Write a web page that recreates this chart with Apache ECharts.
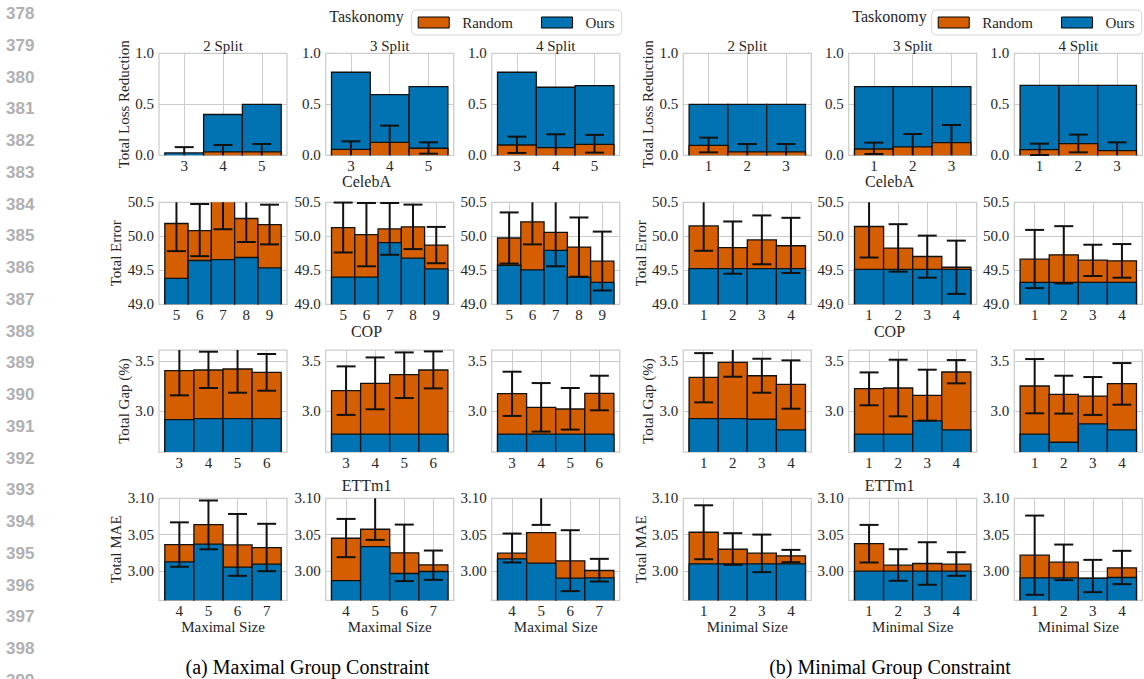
<!DOCTYPE html>
<html><head><meta charset="utf-8">
<script src="https://cdn.jsdelivr.net/npm/echarts@6/dist/echarts.min.js"></script>
<style>html,body{margin:0;padding:0;background:#fff}#c{width:1144px;height:679px}</style>
</head><body><div id="c"></div>
<script>
// ---------------- data ----------------
const taskMaxCats = [3, 4, 5];
const taskMinCats = [1, 2, 3];
const celebMaxCats = [5, 6, 7, 8, 9];
const celebMinCats = [1, 2, 3, 4];
const copMaxCats = [3, 4, 5, 6];
const copMinCats = [1, 2, 3, 4];
const ettMaxCats = [4, 5, 6, 7];
const ettMinCats = [1, 2, 3, 4];

const splitTitles = ['2 Split', '3 Split', '4 Split'];
const datasetNames = ['Taskonomy', 'CelebA', 'COP', 'ETTm1'];
const yAxisNames = ['Total Loss Reduction', 'Total Error', 'Total Gap (%)', 'Total MAE'];
const xAxisNames = ['Maximal Size', 'Minimal Size'];
const captions = ['(a) Maximal Group Constraint', '(b) Minimal Group Constraint'];
const legendNames = ['Random', 'Ours'];
const lineNumbers = [378,379,380,381,382,383,384,385,386,387,388,389,390,391,392,393,394,395,396,397,398,399];

const taskYTicks = [0.0, 0.5, 1.0];
const celebYTicks = [49.0, 49.5, 50.0, 50.5];
const copYTicks = [3.0, 3.5];
const ettYTicks = [3.00, 3.05, 3.10];
const taskYRange = [0, 1.0];
const celebYRange = [49.0, 50.5];
const copYRange = [2.595, 3.61];
const ettYRange = [2.96, 3.10];

// Taskonomy
const taskMaxOurs = [[0.023, 0.40, 0.50], [0.814, 0.595, 0.673], [0.814, 0.667, 0.683]];
const taskMaxRandom = [[-0.01, 0.033, 0.033], [0.059, 0.127, 0.069], [0.101, 0.075, 0.108]];
const taskMaxErrLow = [[-0.10, -0.04, -0.04], [-0.02, -0.03, 0.016], [0.023, -0.05, 0.026]];
const taskMaxErrHigh = [[0.08, 0.101, 0.111], [0.137, 0.291, 0.127], [0.183, 0.206, 0.20]];
const taskMinOurs = [[0.5, 0.5, 0.5], [0.673, 0.673, 0.673], [0.686, 0.686, 0.686]];
const taskMinRandom = [[0.098, 0.033, 0.033], [0.062, 0.082, 0.124], [0.056, 0.114, 0.046]];
const taskMinErrLow = [[0.029, -0.04, -0.04], [0.013, -0.05, -0.05], [0.003, 0.029, -0.03]];
const taskMinErrHigh = [[0.173, 0.111, 0.111], [0.124, 0.209, 0.297], [0.114, 0.203, 0.127]];

// CelebA
const celebMaxOurs = [[49.381, 49.644, 49.658, 49.688, 49.535], [49.401, 49.401, 49.906, 49.678, 49.52], [49.574, 49.505, 49.792, 49.396, 49.322]];
const celebMaxRandom = [[50.188, 50.084, 50.55, 50.262, 50.173], [50.129, 50.025, 50.109, 50.139, 49.871], [49.975, 50.213, 50.059, 49.842, 49.634]];
const celebMaxErrLow = [[49.782, 49.708, 50.104, 49.916, 49.881], [49.762, 49.559, 49.728, 49.812, 49.604], [49.599, 49.881, 49.559, 49.406, 49.203]];
const celebMaxErrHigh = [[50.6, 50.475, 50.9, 50.6, 50.465], [50.496, 50.49, 50.49, 50.466, 50.138], [50.351, 50.6, 50.6, 50.277, 50.069]];
const celebMinOurs = [[49.525, 49.525, 49.525, 49.525], [49.515, 49.515, 49.515, 49.515], [49.322, 49.322, 49.322, 49.322]];
const celebMinRandom = [[50.153, 49.832, 49.946, 49.861], [50.144, 49.827, 49.703, 49.545], [49.663, 49.728, 49.649, 49.639]];
const celebMinErrLow = [[49.787, 49.45, 49.589, 49.46], [49.688, 49.48, 49.391, 49.153], [49.238, 49.307, 49.416, 49.391]];
const celebMinErrHigh = [[50.55, 50.218, 50.307, 50.272], [50.6, 50.178, 50.01, 49.936], [50.094, 50.149, 49.876, 49.886]];

// COP
const copMaxOurs = [[2.917, 2.927, 2.927, 2.927], [2.772, 2.772, 2.772, 2.772], [2.772, 2.772, 2.772, 2.772]];
const copMaxRandom = [[3.404, 3.411, 3.421, 3.387], [3.205, 3.278, 3.364, 3.411], [3.175, 3.04, 3.023, 3.179]];
const copMaxErrLow = [[3.159, 3.232, 3.185, 3.205], [2.964, 3.02, 3.132, 3.228], [2.954, 2.798, 2.818, 3.01]];
const copMaxErrHigh = [[3.65, 3.593, 3.66, 3.57], [3.447, 3.536, 3.586, 3.596], [3.394, 3.281, 3.232, 3.354]];
const copMinOurs = [[2.927, 2.927, 2.921, 2.815], [2.772, 2.772, 2.904, 2.815], [2.772, 2.692, 2.874, 2.815]];
const copMinRandom = [[3.338, 3.487, 3.354, 3.268], [3.225, 3.232, 3.159, 3.391], [3.252, 3.169, 3.152, 3.275]];
const copMinErrLow = [[3.089, 3.344, 3.185, 3.026], [3.06, 2.95, 2.907, 3.278], [2.98, 2.977, 2.964, 3.066]];
const copMinErrHigh = [[3.579, 3.63, 3.523, 3.507], [3.387, 3.513, 3.414, 3.51], [3.52, 3.354, 3.341, 3.48]];

// ETTm1
const ettMaxOurs = [[3.0128, 3.037, 3.0055, 3.0096], [2.987, 3.0338, 2.9968, 2.9995], [3.0169, 3.011, 2.9904, 2.9909]];
const ettMaxRandom = [[3.0365, 3.064, 3.036, 3.0324], [3.0452, 3.0575, 3.0251, 3.0087], [3.0247, 3.053, 3.0142, 3.0009]];
const ettMaxErrLow = [[3.006, 3.030, 2.9936, 3.0], [3.0192, 3.0429, 2.9863, 2.9881], [3.0119, 3.0635, 2.9726, 2.9858]];
const ettMaxErrHigh = [[3.067, 3.097, 3.0785, 3.065], [3.0717, 3.11, 3.0639, 3.0283], [3.0516, 3.11, 3.0562, 3.0169]];
const ettMinOurs = [[3.01, 3.01, 3.01, 3.01], [3.0, 3.0, 3.0, 3.0], [2.9909, 2.9909, 2.99, 2.9913]];
const ettMinRandom = [[3.0534, 3.0301, 3.0247, 3.021], [3.0379, 3.0082, 3.0105, 3.0096], [3.0219, 3.0123, 2.9905, 3.0046]];
const ettMinErrLow = [[3.0164, 3.0087, 2.9986, 3.0123], [3.0119, 2.9868, 2.9813, 2.9936], [2.9676, 2.9877, 2.9712, 2.9822]];
const ettMinErrHigh = [[3.0904, 3.0521, 3.0502, 3.0292], [3.0635, 3.0301, 3.0397, 3.026], [3.0763, 3.0365, 3.0155, 3.0279]];

// ---------------- styling / layout ----------------
const COLORS = { Random: '#D55E00', Ours: '#0173B2' };
const FONT = '"Liberation Serif", "Times New Roman", serif';
const TXT = '#262626';
const GRIDC = '#cccccc';
const colLefts = [159, 325.7, 491.7, 683.3, 848.7, 1014.3];
const rowTops = [53.3, 202.3, 350, 498.3];
const PW = 128, PH = 102;
const nameGaps = [23, 32, 23, 32];
const titleCenters = [366.5, 889.5];
const rowLabelY = [16, 181, 331.5, 485];

const rows = [
  { ticks: taskYTicks, range: taskYRange, dec: 1, randomOnTop: true,
    halves: [
      { cats: taskMaxCats, ours: taskMaxOurs, rnd: taskMaxRandom, lo: taskMaxErrLow, hi: taskMaxErrHigh },
      { cats: taskMinCats, ours: taskMinOurs, rnd: taskMinRandom, lo: taskMinErrLow, hi: taskMinErrHigh }] },
  { ticks: celebYTicks, range: celebYRange, dec: 1, randomOnTop: false,
    halves: [
      { cats: celebMaxCats, ours: celebMaxOurs, rnd: celebMaxRandom, lo: celebMaxErrLow, hi: celebMaxErrHigh },
      { cats: celebMinCats, ours: celebMinOurs, rnd: celebMinRandom, lo: celebMinErrLow, hi: celebMinErrHigh }] },
  { ticks: copYTicks, range: copYRange, dec: 1, randomOnTop: false,
    halves: [
      { cats: copMaxCats, ours: copMaxOurs, rnd: copMaxRandom, lo: copMaxErrLow, hi: copMaxErrHigh },
      { cats: copMinCats, ours: copMinOurs, rnd: copMinRandom, lo: copMinErrLow, hi: copMinErrHigh }] },
  { ticks: ettYTicks, range: ettYRange, dec: 2, randomOnTop: false,
    halves: [
      { cats: ettMaxCats, ours: ettMaxOurs, rnd: ettMaxRandom, lo: ettMaxErrLow, hi: ettMaxErrHigh },
      { cats: ettMinCats, ours: ettMinOurs, rnd: ettMinRandom, lo: ettMinErrLow, hi: ettMinErrHigh }] }
];

function clampY(y, cs) { return Math.min(Math.max(y, cs.y), cs.y + cs.height); }

function renderBar(params, api) {
  const cs = params.coordSys;
  const x = api.value(0), v = api.value(1);
  const a = api.coord([x - 0.5, v]);
  const b = api.coord([x + 0.5, v]);
  const bottom = cs.y + cs.height;
  if (a[1] >= bottom) return null;
  const clipped = a[1] < cs.y;
  const top = clipped ? cs.y : a[1];
  const st = { stroke: '#111', lineWidth: 1.3, fill: null };
  const children = [{ type: 'rect', shape: { x: a[0], y: top, width: b[0] - a[0], height: bottom - top }, style: { fill: api.visual('color') } }];
  if (clipped) {
    children.push({ type: 'line', shape: { x1: a[0], y1: bottom, x2: a[0], y2: top }, style: st });
    children.push({ type: 'line', shape: { x1: b[0], y1: bottom, x2: b[0], y2: top }, style: st });
  } else {
    children.push({ type: 'polyline', shape: { points: [[a[0], bottom], [a[0], top], [b[0], top], [b[0], bottom]] }, style: st });
  }
  return { type: 'group', children };
}

function renderErr(params, api) {
  const cs = params.coordSys;
  const x = api.value(0);
  const lo = api.coord([x, api.value(1)]);
  const hi = api.coord([x, api.value(2)]);
  const top = cs.y, bottom = cs.y + cs.height;
  const st = { stroke: '#111', lineWidth: 2 };
  const cw = 9.5;
  const ch = [{ type: 'line', shape: { x1: hi[0], y1: clampY(hi[1], cs), x2: hi[0], y2: clampY(lo[1], cs) }, style: st }];
  if (hi[1] >= top && hi[1] <= bottom) ch.push({ type: 'line', shape: { x1: hi[0] - cw, y1: hi[1], x2: hi[0] + cw, y2: hi[1] }, style: st });
  if (lo[1] >= top && lo[1] <= bottom) ch.push({ type: 'line', shape: { x1: lo[0] - cw, y1: lo[1], x2: lo[0] + cw, y2: lo[1] }, style: st });
  return { type: 'group', children: ch };
}

const grid = [], xAxis = [], yAxis = [], series = [], graphic = [];
const labelStyle = { fontFamily: FONT, fontSize: 15, color: TXT };

rows.forEach((row, r) => {
  row.halves.forEach((half, h) => {
    for (let p = 0; p < 3; p++) {
      const col = h * 3 + p;
      const gi = grid.length;
      grid.push({ left: colLefts[col], top: rowTops[r], width: PW, height: PH, show: true,
        borderColor: GRIDC, borderWidth: 1.25, backgroundColor: 'transparent' });
      const cats = half.cats, n = cats.length;
      const xa = {
        gridIndex: gi, type: 'value',
        min: cats[0] - 0.5 - 0.05 * n, max: cats[n - 1] + 0.5 + 0.05 * n,
        axisLine: { show: false },
        axisTick: { show: false, customValues: cats },
        axisLabel: Object.assign({ customValues: cats, margin: 3, formatter: v => String(Math.round(v)) }, labelStyle),
        splitLine: { show: true, lineStyle: { color: GRIDC, width: 1 } }
      };
      if (r === 3) {
        xa.name = xAxisNames[h]; xa.nameLocation = 'middle'; xa.nameGap = 19;
        xa.nameTextStyle = labelStyle;
      }
      xAxis.push(xa);
      const dec = row.dec;
      const ya = {
        gridIndex: gi, type: 'value', min: row.range[0], max: row.range[1],
        axisLine: { show: false },
        axisTick: { show: false, customValues: row.ticks },
        axisLabel: Object.assign({ customValues: row.ticks, margin: 5, formatter: v => Number(v).toFixed(dec) }, labelStyle),
        splitLine: { show: true, lineStyle: { color: GRIDC, width: 1 } }
      };
      if (p === 0) {
        ya.name = yAxisNames[r]; ya.nameLocation = 'middle'; ya.nameGap = nameGaps[r];
        ya.nameTextStyle = labelStyle;
      }
      yAxis.push(ya);

      const zR = row.randomOnTop ? 3 : 2, zO = row.randomOnTop ? 2 : 3;
      series.push({ type: 'custom', name: 'Ours', xAxisIndex: gi, yAxisIndex: gi, z: zO,
        itemStyle: { color: COLORS.Ours }, renderItem: renderBar, encode: { x: 0, y: 1 },
        data: cats.map((c, i) => [c, half.ours[p][i]]) });
      series.push({ type: 'custom', name: 'Random', xAxisIndex: gi, yAxisIndex: gi, z: zR,
        itemStyle: { color: COLORS.Random }, renderItem: renderBar, encode: { x: 0, y: 1 },
        data: cats.map((c, i) => [c, half.rnd[p][i]]) });
      series.push({ type: 'custom', name: 'err', xAxisIndex: gi, yAxisIndex: gi, z: 5,
        itemStyle: { color: '#111' }, renderItem: renderErr, encode: { x: 0, y: [1, 2] },
        data: cats.map((c, i) => [c, half.lo[p][i], half.hi[p][i]]) });

      if (r === 0) {
        graphic.push({ type: 'text', x: colLefts[col] + PW / 2, y: 45.5, z: 10,
          style: { text: splitTitles[p], fontFamily: FONT, fontSize: 15, fill: TXT,
            align: 'center', verticalAlign: 'middle', textAlign: 'center', textVerticalAlign: 'middle' } });
      }
    }
    graphic.push({ type: 'text', x: titleCenters[h], y: rowLabelY[r], z: 10,
      style: { text: datasetNames[r], fontFamily: FONT, fontSize: 16, fill: TXT,
        align: 'center', verticalAlign: 'middle', textAlign: 'center', textVerticalAlign: 'middle' } });
  });
});

[307.5, 890].forEach((cx, i) => {
  graphic.push({ type: 'text', x: cx, y: 667, z: 10,
    style: { text: captions[i], fontFamily: FONT, fontSize: 20, fill: '#000',
      align: 'center', verticalAlign: 'middle', textAlign: 'center', textVerticalAlign: 'middle' } });
});
lineNumbers.forEach((ln, i) => {
  graphic.push({ type: 'text', x: 6, y: 13.5 + i * 31.75, z: 10,
    style: { text: String(ln), fontFamily: '"Liberation Sans", Arial, sans-serif', fontWeight: 'bold', fontSize: 17, fill: '#b0b0b0',
      align: 'left', verticalAlign: 'middle', textAlign: 'left', textVerticalAlign: 'middle' } });
});

const legendBase = {
  data: legendNames, icon: 'rect', itemWidth: 31, itemHeight: 11, itemGap: 28,
  orient: 'horizontal', width: 220,
  padding: [5, 7, 5, 6], borderColor: '#d5d5d5', borderWidth: 1, borderRadius: 4,
  backgroundColor: '#fff', selectedMode: false, top: 10,
  itemStyle: { borderColor: '#000', borderWidth: 1 },
  textStyle: { fontFamily: FONT, fontSize: 15, color: TXT, padding: [0, 0, 0, 8] }
};

const chart = echarts.init(document.getElementById('c'), null, { renderer: 'svg' });
chart.setOption({
  backgroundColor: '#fff',
  animation: false,
  grid, xAxis, yAxis, series, graphic,
  legend: [Object.assign({ left: 411.7 }, legendBase), Object.assign({ right: 2.3 }, legendBase)]
});
</script>
</body></html>
